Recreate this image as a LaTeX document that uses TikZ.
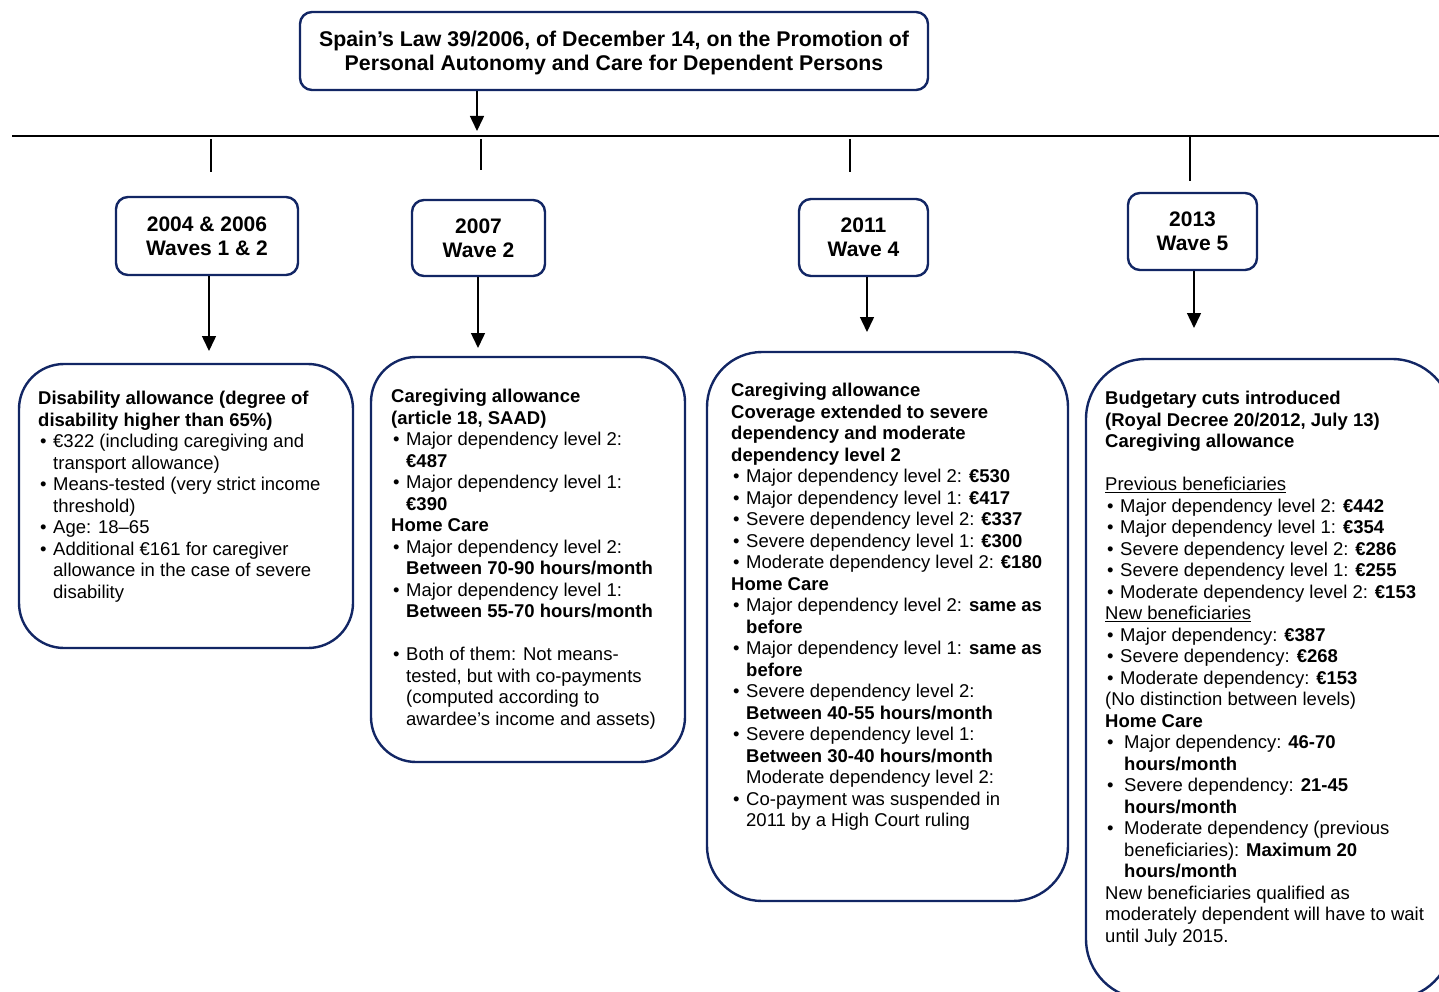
\documentclass[tikz,border=0pt]{standalone}
\usepackage{fontspec}
\setmainfont{Liberation Sans}
\usetikzlibrary{arrows.meta}
\definecolor{navy}{RGB}{18,38,100}
\newcommand{\bitem}{\makebox[15pt][l]{\hspace{2pt}•}}
\newcommand{\bcont}{\hspace*{15pt}}
\newcommand{\bitemw}{\makebox[19pt][l]{\hspace{2pt}•}}
\newcommand{\bcontw}{\hspace*{19pt}}
\begin{document}
\begin{tikzpicture}[x=1pt,y=-1pt,
  titlebox/.style={draw=navy,line width=2.4pt,rounded corners=12pt,fill=white,
    minimum width=628pt,minimum height=78pt,align=center,inner sep=0pt,
    text depth=0pt,font=\fontsize{21.3}{24.5}\selectfont\bfseries},
  yearbox/.style={draw=navy,line width=2.4pt,rounded corners=12pt,fill=white,
    align=center,inner sep=0pt,font=\fontsize{21}{24}\selectfont\bfseries},
  detailbox/.style={draw=navy,line width=2.4pt,inner sep=0pt},
  bodytext/.style={anchor=north west,align=left,inner sep=0pt,
    font=\fontsize{18.5}{21.5}\selectfont},
  arrowline/.style={line width=1.5pt,-{Triangle[width=14pt,length=15pt]}},
  tickline/.style={line width=1.5pt},
]
\useasboundingbox (0,0) rectangle (1439,992);

% title
\node[titlebox] (title) at (614,51) {Spain’s Law 39/2006, of December 14, on the Promotion of\\Personal Autonomy and Care for Dependent Persons};

% timeline
\coordinate (tl0) at (12,136);
\coordinate (tl1) at (1439,136);
\draw[tickline] (tl0) -- (tl1);
\coordinate (tarrow) at (477,131);
\draw[arrowline] (title.south -| tarrow) -- (tarrow);

% ticks
\coordinate (t1a) at (211,139); \coordinate (t1b) at (211,172);
\coordinate (t2a) at (481,139); \coordinate (t2b) at (481,170);
\coordinate (t3a) at (850,139); \coordinate (t3b) at (850,172);
\coordinate (t4a) at (1190,137); \coordinate (t4b) at (1190,181);
\draw[tickline] (t1a) -- (t1b);
\draw[tickline] (t2a) -- (t2b);
\draw[tickline] (t3a) -- (t3b);
\draw[tickline] (t4a) -- (t4b);

% year boxes
\node[yearbox,minimum width=182pt,minimum height=78pt] (y1) at (207,236) {2004 \& 2006\\Waves 1 \& 2};
\node[yearbox,minimum width=133pt,minimum height=76pt] (y2) at (478.5,238) {2007\\Wave 2};
\node[yearbox,minimum width=129pt,minimum height=77pt] (y3) at (863.5,237.5) {2011\\Wave 4};
\node[yearbox,minimum width=129pt,minimum height=77pt] (y4) at (1192.5,231.5) {2013\\Wave 5};

% arrows to details
\coordinate (a1) at (209,351);
\coordinate (a2) at (478,348);
\coordinate (a3) at (867,332);
\coordinate (a4) at (1194,328);
\draw[arrowline] (y1.south -| a1) -- (a1);
\draw[arrowline] (y2.south -| a2) -- (a2);
\draw[arrowline] (y3.south -| a3) -- (a3);
\draw[arrowline] (y4.south -| a4) -- (a4);

% detail boxes
\node[detailbox,rounded corners=45pt,minimum width=334pt,minimum height=284pt] (d1) at (186,506) {};
\node[detailbox,rounded corners=45pt,minimum width=314pt,minimum height=405pt] (d2) at (528,559.5) {};
\node[detailbox,rounded corners=55pt,minimum width=361pt,minimum height=549pt] (d3) at (887.5,626.5) {};
\begin{scope}
\clip (0,0) rectangle (1439,992);
\node[detailbox,rounded corners=60pt,minimum width=366pt,minimum height=640pt] (d4) at (1269,679) {};
\end{scope}

% texts
\node[bodytext] (txt1) at (38,391) {%
\textbf{Disability allowance (degree of}\\
\textbf{disability higher than 65\%)}\\
\bitem €322 (including caregiving and\\
\bcont transport allowance)\\
\bitem Means-tested (very strict income\\
\bcont threshold)\\
\bitem Age: 18–65\\
\bitem Additional €161 for caregiver\\
\bcont allowance in the case of severe\\
\bcont disability};

\node[bodytext] (txt2) at (391,389) {%
\textbf{Caregiving allowance}\\
\textbf{(article 18, SAAD)}\\
\bitem Major dependency level 2:\\
\bcont \textbf{€487}\\
\bitem Major dependency level 1:\\
\bcont \textbf{€390}\\
\textbf{Home Care}\\
\bitem Major dependency level 2:\\
\bcont \textbf{Between 70-90 hours/month}\\
\bitem Major dependency level 1:\\
\bcont \textbf{Between 55-70 hours/month}\\
\mbox{}\\
\bitem Both of them: Not means-\\
\bcont tested, but with co-payments\\
\bcont (computed according to\\
\bcont awardee’s income and assets)};

\node[bodytext] (txt3) at (731,383) {%
\textbf{Caregiving allowance}\\
\textbf{Coverage extended to severe}\\
\textbf{dependency and moderate}\\
\textbf{dependency level 2}\\
\bitem Major dependency level 2: \textbf{€530}\\
\bitem Major dependency level 1: \textbf{€417}\\
\bitem Severe dependency level 2: \textbf{€337}\\
\bitem Severe dependency level 1: \textbf{€300}\\
\bitem Moderate dependency level 2: \textbf{€180}\\
\textbf{Home Care}\\
\bitem Major dependency level 2: \textbf{same as}\\
\bcont \textbf{before}\\
\bitem Major dependency level 1: \textbf{same as}\\
\bcont \textbf{before}\\
\bitem Severe dependency level 2:\\
\bcont \textbf{Between 40-55 hours/month}\\
\bitem Severe dependency level 1:\\
\bcont \textbf{Between 30-40 hours/month}\\
\bcont Moderate dependency level 2:\\
\bitem Co-payment was suspended in\\
\bcont 2011 by a High Court ruling};

\node[bodytext] (txt4) at (1105,391) {%
\textbf{Budgetary cuts introduced}\\
\textbf{(Royal Decree 20/2012, July 13)}\\
\textbf{Caregiving allowance}\\
\mbox{}\\
\underline{Previous beneficiaries}\\
\bitem Major dependency level 2: \textbf{€442}\\
\bitem Major dependency level 1: \textbf{€354}\\
\bitem Severe dependency level 2: \textbf{€286}\\
\bitem Severe dependency level 1: \textbf{€255}\\
\bitem Moderate dependency level 2: \textbf{€153}\\
\underline{New beneficiaries}\\
\bitem Major dependency: \textbf{€387}\\
\bitem Severe dependency: \textbf{€268}\\
\bitem Moderate dependency: \textbf{€153}\\
(No distinction between levels)\\
\textbf{Home Care}\\
\bitemw Major dependency: \textbf{46-70}\\
\bcontw \textbf{hours/month}\\
\bitemw Severe dependency: \textbf{21-45}\\
\bcontw \textbf{hours/month}\\
\bitemw Moderate dependency (previous\\
\bcontw beneficiaries): \textbf{Maximum 20}\\
\bcontw \textbf{hours/month}\\
New beneficiaries qualified as\\
moderately dependent will have to wait\\
until July 2015.};
\end{tikzpicture}
\end{document}
